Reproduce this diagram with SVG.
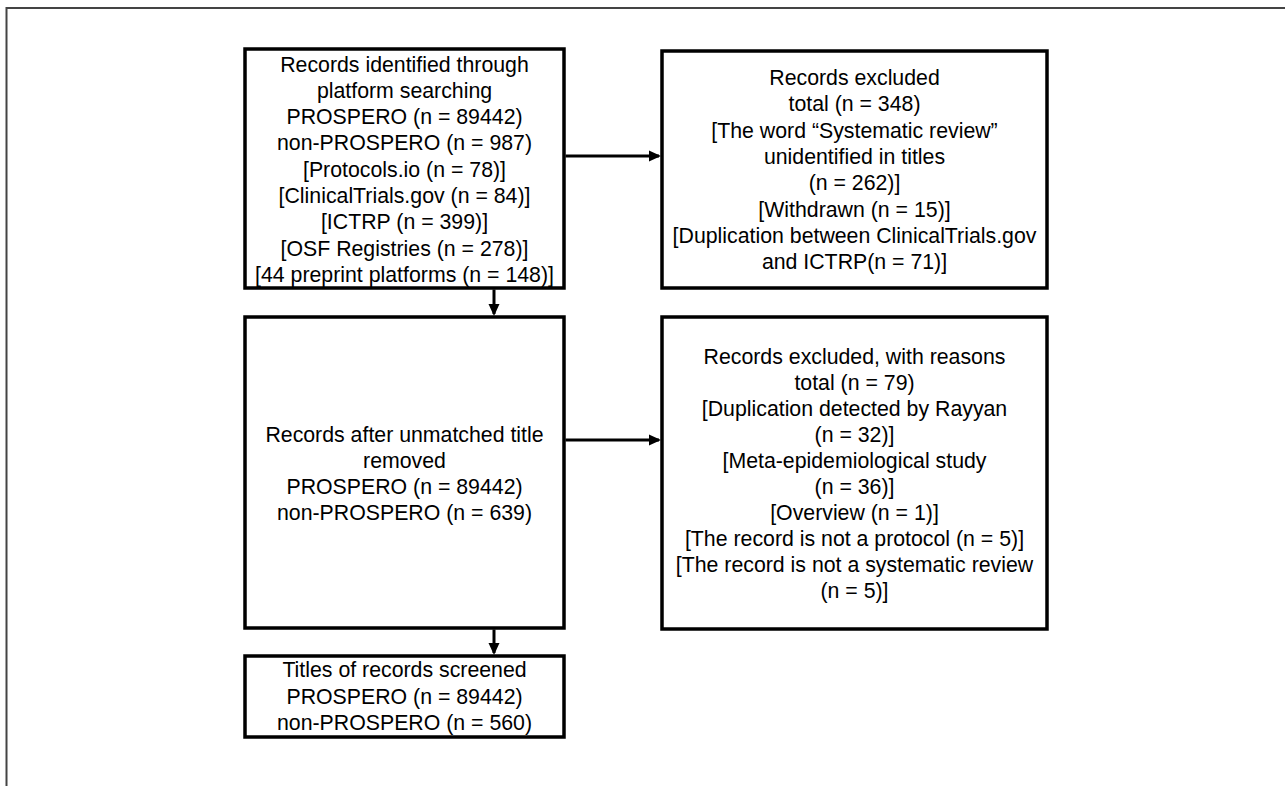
<svg xmlns="http://www.w3.org/2000/svg" width="1285" height="786" viewBox="0 0 1285 786">
<style>
.box{fill:#fff;stroke:#000;stroke-width:3.5}
.t{font-family:"Liberation Sans",Arial,sans-serif;font-size:21.3px;fill:#000;text-anchor:middle}
.c{stroke:#000;stroke-width:3;fill:none}
.frame{stroke:#444;stroke-width:2;fill:none}
</style>
<defs>
<marker id="ah" markerWidth="12" markerHeight="12" refX="10" refY="6" orient="auto" markerUnits="userSpaceOnUse">
<path d="M0,0.5 L12,6 L0,11.5 Z" fill="#000"/>
</marker>
</defs>
<rect width="1285" height="786" fill="#fff"/>
<path class="frame" d="M6.5,786 L6.5,8 L1285,8"/>
<g id="n1">
<rect class="box" x="245" y="49" width="319" height="239"/>
<text class="t" x="404.5" y="71.5">Records identified through</text>
<text class="t" x="404.5" y="97.8">platform searching</text>
<text class="t" x="404.5" y="124.1">PROSPERO (n = 89442)</text>
<text class="t" x="404.5" y="150.4">non-PROSPERO (n = 987)</text>
<text class="t" x="404.5" y="176.7">[Protocols.io (n = 78)]</text>
<text class="t" x="404.5" y="203">[ClinicalTrials.gov (n = 84)]</text>
<text class="t" x="404.5" y="229.3">[ICTRP (n = 399)]</text>
<text class="t" x="404.5" y="255.6">[OSF Registries (n = 278)]</text>
<text class="t" x="404.5" y="281.9">[44 preprint platforms (n = 148)]</text>
</g>
<g id="n2">
<rect class="box" x="662" y="51" width="385" height="237"/>
<text class="t" x="854.5" y="85">Records excluded</text>
<text class="t" x="854.5" y="111.3">total (n = 348)</text>
<text class="t" x="854.5" y="137.6">[The word “Systematic review”</text>
<text class="t" x="854.5" y="163.9">unidentified in titles</text>
<text class="t" x="854.5" y="190.2">(n = 262)]</text>
<text class="t" x="854.5" y="216.5">[Withdrawn (n = 15)]</text>
<text class="t" x="854.5" y="242.8">[Duplication between ClinicalTrials.gov</text>
<text class="t" x="854.5" y="269.1">and ICTRP(n = 71)]</text>
</g>
<g id="n3">
<rect class="box" x="245" y="317" width="319" height="311"/>
<text class="t" x="404.5" y="441.5">Records after unmatched title</text>
<text class="t" x="404.5" y="467.8">removed</text>
<text class="t" x="404.5" y="494.1">PROSPERO (n = 89442)</text>
<text class="t" x="404.5" y="520.4">non-PROSPERO (n = 639)</text>
</g>
<g id="n4">
<rect class="box" x="245" y="656" width="319" height="81"/>
<text class="t" x="404.5" y="677">Titles of records screened</text>
<text class="t" x="404.5" y="703.5">PROSPERO (n = 89442)</text>
<text class="t" x="404.5" y="730">non-PROSPERO (n = 560)</text>
</g>
<g id="n5">
<rect class="box" x="662" y="317" width="385" height="312"/>
<text class="t" x="854.5" y="363.5">Records excluded, with reasons</text>
<text class="t" x="854.5" y="389.6">total (n = 79)</text>
<text class="t" x="854.5" y="415.7">[Duplication detected by Rayyan</text>
<text class="t" x="854.5" y="441.8">(n = 32)]</text>
<text class="t" x="854.5" y="467.9">[Meta-epidemiological study</text>
<text class="t" x="854.5" y="494">(n = 36)]</text>
<text class="t" x="854.5" y="520.1">[Overview (n = 1)]</text>
<text class="t" x="854.5" y="546.2">[The record is not a protocol (n = 5)]</text>
<text class="t" x="854.5" y="572.3">[The record is not a systematic review</text>
<text class="t" x="854.5" y="598.4">(n = 5)]</text>
</g>
<g id="connectors">
<line class="c" x1="565.5" y1="156" x2="659" y2="156" marker-end="url(#ah)"/>
<line class="c" x1="565.5" y1="440" x2="659" y2="440" marker-end="url(#ah)"/>
<line class="c" x1="494" y1="289.5" x2="494" y2="314" marker-end="url(#ah)"/>
<line class="c" x1="494" y1="629.5" x2="494" y2="653" marker-end="url(#ah)"/>
</g>
</svg>
